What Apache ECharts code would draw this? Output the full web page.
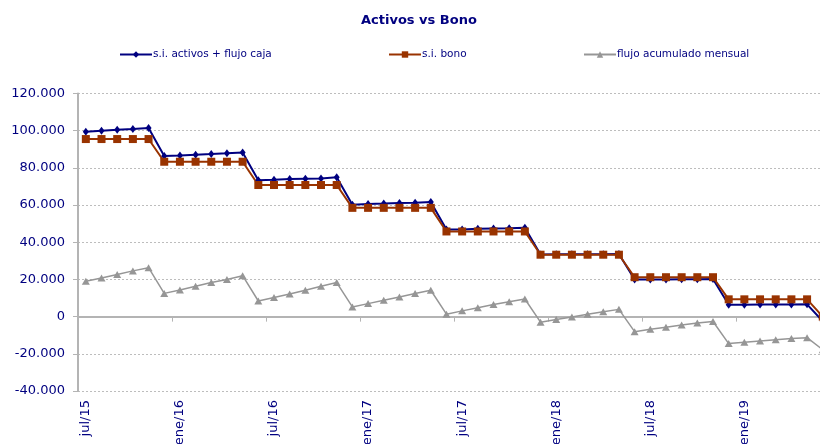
<!DOCTYPE html>
<html>
<head>
<meta charset="utf-8">
<script src="https://cdn.jsdelivr.net/npm/echarts@6/dist/echarts.min.js"></script>
<style>
html,body{margin:0;padding:0;background:#fff;overflow:hidden;width:820px;height:444px;}
#c{width:840px;height:444px;}
</style>
</head>
<body>
<div id="c"></div>
<script>
const categories = [
  'jul/15','ago/15','sep/15','oct/15','nov/15','dic/15',
  'ene/16','feb/16','mar/16','abr/16','may/16','jun/16',
  'jul/16','ago/16','sep/16','oct/16','nov/16','dic/16',
  'ene/17','feb/17','mar/17','abr/17','may/17','jun/17',
  'jul/17','ago/17','sep/17','oct/17','nov/17','dic/17',
  'ene/18','feb/18','mar/18','abr/18','may/18','jun/18',
  'jul/18','ago/18','sep/18','oct/18','nov/18','dic/18',
  'ene/19','feb/19','mar/19','abr/19','may/19','jun/19'
];
const activos = [
  99400, 100000, 100500, 100900, 101400,
  86400, 86600, 87100, 87400, 87800, 88300,
  73400, 73650, 74000, 74200, 74300, 74900,
  60200, 60600, 60800, 61100, 61300, 61600,
  46800, 46900, 47200, 47400, 47500, 47800,
  33400, 33500, 33500, 33600, 33600, 33700,
  20000, 20000, 20000, 20100, 20100, 20200,
  6400, 6400, 6500, 6500, 6500, 6600,
  -2500
];
const bono = [
  95500, 95500, 95500, 95500, 95500,
  83300, 83300, 83300, 83300, 83300, 83300,
  70800, 70800, 70800, 70800, 70800, 70800,
  58500, 58500, 58500, 58500, 58500, 58500,
  45800, 45800, 45800, 45800, 45800, 45800,
  33300, 33300, 33300, 33300, 33300, 33300,
  21200, 21200, 21200, 21200, 21200, 21200,
  9300, 9300, 9300, 9300, 9300, 9300,
  0
];
const flujo = [
  19000, 20800, 22600, 24600, 26300,
  12500, 14300, 16300, 18300, 20000, 22000,
  8400, 10300, 12200, 14200, 16300, 18300,
  5200, 7000, 8800, 10500, 12400, 14200,
  1300, 3100, 4800, 6500, 8000, 9500,
  -3000, -1600, -200, 1300, 2600, 3900,
  -8100, -6800, -5700, -4500, -3400, -2600,
  -14500, -13800, -13100, -12400, -11800, -11300,
  -17800
];
const seriesNames = ['s.i. activos + flujo caja', 's.i. bono', 'flujo acumulado mensual'];
const yTicks = {min: -40000, max: 120000, interval: 20000};

function fmt(v){
  const s = String(Math.abs(v)).replace(/\B(?=(\d{3})+(?!\d))/g, '.');
  return (v < 0 ? '-' : '') + s;
}

const FONT = 'DejaVu Sans';
const NAVY = '#000080';
const chart = echarts.init(document.getElementById('c'), null, {renderer: 'canvas'});

function legendAt(left, name){
  return {
    data: [name], left: left, top: 44, itemWidth: 32, itemHeight: 8, itemGap: 0,
    textStyle: {fontFamily: FONT, fontSize: 10.5, color: NAVY, padding: [0,0,0,-4]},
    selectedMode: false
  };
}

chart.setOption({
  animation: false,
  title: {
    text: 'Activos vs Bono', left: 356, top: 9,
    textStyle: {fontFamily: FONT, fontSize: 13, fontWeight: 'bold', color: NAVY}
  },
  legend: [legendAt(114, seriesNames[0]), legendAt(383, seriesNames[1]), legendAt(578, seriesNames[2])],
  grid: {left: 78, top: 93.5, height: 297.5, width: 752.6, containLabel: false, outerBoundsMode: 'none'},
  xAxis: [{
    type: 'category', data: categories, boundaryGap: true, position: 'bottom',
    axisLine: {show: false, onZero: false},
    axisTick: {show: false},
    axisLabel: {show: true, interval: 5, rotate: 90, margin: 9, fontFamily: FONT, fontSize: 13, color: NAVY, hideOverlap: false},
    splitLine: {show: false}
  }, {
    type: 'category', data: categories, boundaryGap: true, position: 'bottom',
    axisLine: {show: true, onZero: true, lineStyle: {color: '#b4b4b4', width: 2}},
    axisTick: {show: true, inside: false, interval: 5, length: 5, lineStyle: {color: '#b4b4b4', width: 1}},
    axisLabel: {show: false},
    splitLine: {show: false}
  }],
  yAxis: {
    type: 'value', min: yTicks.min, max: yTicks.max, interval: yTicks.interval,
    axisLine: {show: true, lineStyle: {color: '#b4b4b4', width: 2}},
    axisTick: {show: true, length: 5, lineStyle: {color: '#b4b4b4'}},
    axisLabel: {margin: 13, fontFamily: FONT, fontSize: 13, color: NAVY, formatter: fmt},
    splitLine: {show: true, lineStyle: {color: '#bdbdbd', type: [2, 2], width: 1}}
  },
  series: [
    {name: seriesNames[0], type: 'line', data: activos, symbol: 'diamond', symbolSize: [6, 8],
     lineStyle: {color: NAVY, width: 2}, itemStyle: {color: NAVY}},
    {name: seriesNames[1], type: 'line', data: bono, symbol: 'rect', symbolSize: 8,
     lineStyle: {color: '#993300', width: 2}, itemStyle: {color: '#993300'}},
    {name: seriesNames[2], type: 'line', data: flujo, symbol: 'triangle', symbolSize: [8, 7],
     lineStyle: {color: '#969696', width: 1.5}, itemStyle: {color: '#969696'}}
  ]
});
</script>
</body>
</html>
